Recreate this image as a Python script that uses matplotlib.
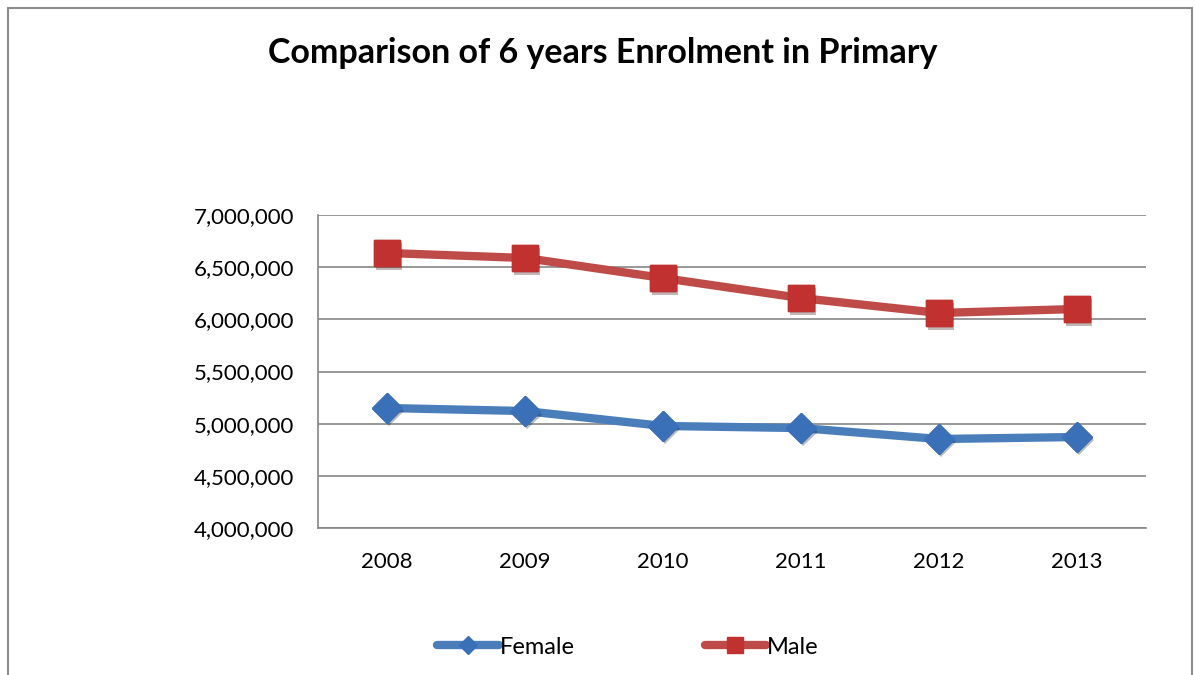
import matplotlib
matplotlib.use("Agg")
import matplotlib.pyplot as plt
from matplotlib.patches import Rectangle
from matplotlib.ticker import FuncFormatter
import matplotlib.patheffects as pe

years = ["2008", "2009", "2010", "2011", "2012", "2013"]
female = [5150000, 5121000, 4978000, 4958000, 4853000, 4872000]
male = [6636000, 6588000, 6396000, 6204000, 6061000, 6099000]

plt.rcParams['font.family'] = ['Lato', 'DejaVu Sans']

fig = plt.figure(figsize=(11.95, 6.75), dpi=100)
ax = fig.add_axes([318 / 1195, 1 - 528 / 675, 828 / 1195, 313 / 675])

# outer chart border
fig.patches.append(Rectangle((8 / 1195, -0.05), 1184 / 1195, 1 - 8 / 675 + 0.05,
                             transform=fig.transFigure, fill=False,
                             edgecolor='#8c8c8c', linewidth=1.5))

x = list(range(len(years)))
shadow = [pe.SimplePatchShadow(offset=(1.5, -2.5), alpha=0.3), pe.Normal()]

series = [
    ("Female", female, '#4A7EBB', 'D', 15, '#3A70B8'),
    ("Male", male, '#BE4B48', 's', 19, '#C0312F'),
]
for name, vals, lc, mk, ms, mc in series:
    ax.plot(x, vals, color=lc, linewidth=6, solid_capstyle='round',
            marker=mk, markersize=ms, markerfacecolor=mc,
            markeredgecolor=mc, label=name, zorder=2)
    # markers again on top, with a soft drop shadow
    ax.plot(x, vals, linestyle='none', marker=mk, markersize=ms,
            markerfacecolor=mc, markeredgecolor=mc, path_effects=shadow,
            zorder=3)

ax.set_xlim(-0.5, 5.5)
ax.set_ylim(4000000, 7000000)
ax.set_yticks(range(4000000, 7000001, 500000))
ax.yaxis.set_major_formatter(FuncFormatter(lambda v, p: f"{int(v):,}"))
ax.set_xticks(x)
ax.set_xticklabels(years)

ax.grid(axis='y', color='#868686', linewidth=1.2)
ax.set_axisbelow(True)
for s in ['top', 'right']:
    ax.spines[s].set_visible(False)
for s in ['left', 'bottom']:
    ax.spines[s].set_color('#868686')
    ax.spines[s].set_linewidth(1.2)
ax.tick_params(axis='y', length=0, labelsize=16, pad=17)
ax.tick_params(axis='x', length=0, labelsize=16, pad=17)

fig.text(603 / 1195, 1 - 53 / 675, "Comparison of 6 years Enrolment in Primary",
         ha='center', va='center', fontsize=24.5, fontweight='bold')

fig.legend(loc='center', bbox_to_anchor=(628 / 1195, 1 - 647 / 675), ncol=2,
           frameon=False, fontsize=17, handlelength=2.6, handletextpad=0.05,
           columnspacing=5.5, markerscale=0.6)

fig.savefig("out.png", dpi=100)
